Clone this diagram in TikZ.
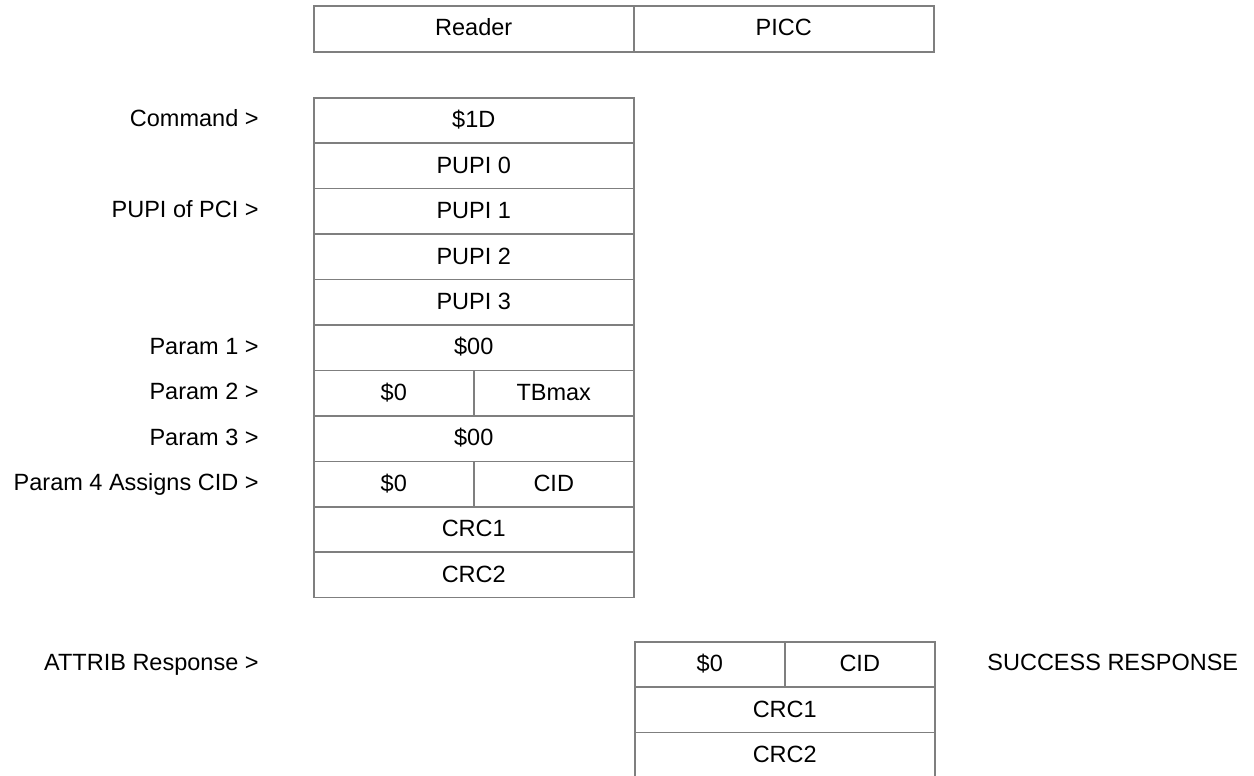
\documentclass[tikz,border=0pt]{standalone}
\usepackage{fontspec}
\setmainfont{Liberation Sans}
\usepackage{tikz}
\usetikzlibrary{positioning}
\definecolor{cellgray}{HTML}{7F7F7F}
\newcommand{\rowh}{45.45}

\tikzset{
  cell/.style={draw=cellgray, line width=0.75pt, inner sep=0pt, anchor=north west,
               minimum height=22.72pt, text height=8.4pt, text depth=1.2pt},
  wide/.style={cell, minimum width=160pt},
  half/.style={cell, minimum width=80pt},
  tag/.style={anchor=east, inner sep=0pt, text height=8.4pt, text depth=1.2pt}
}

\begin{document}
\begin{tikzpicture}[x=0.5pt, y=-0.5pt, font=\fontsize{11.75}{14}\selectfont]
  \clip (0,0) rectangle (1254,776);
  % header
  \node[wide, minimum height=23pt] (reader) at (313,5) {Reader};
  \node[cell, minimum width=150pt, minimum height=23pt] (picc) at (633,5) {PICC};
  % ATTRIB command frame
  \foreach \i/\lab in {0/{\$1D},1/{PUPI 0},2/{PUPI 1},3/{PUPI 2},4/{PUPI 3},
                       5/{\$00},7/{\$00},9/{CRC1},10/{CRC2}}{
    \node[wide] (cmd\i) at (313,97+\rowh*\i) {\lab};
  }
  \node[half] (cmd6a) at (313,97+\rowh*6) {\$0};
  \node[half] (cmd6b) at (473,97+\rowh*6) {TBmax};
  \node[half] (cmd8a) at (313,97+\rowh*8) {\$0};
  \node[half] (cmd8b) at (473,97+\rowh*8) {CID};
  % field labels
  \foreach \i/\lab in {0/{Command >},2/{PUPI of PCI >},5/{Param 1 >},6/{Param 2 >},
                       7/{Param 3 >},8/{Param 4 Assigns CID >}}{
    \node[tag] (lbl\i) at (259,97+\rowh*\i+\rowh/2) {\lab};
  }
  % response frame
  \node[cell, minimum width=75pt] (rsp0a) at (634,641) {\$0};
  \node[cell, minimum width=75pt] (rsp0b) at (784,641) {CID};
  \node[cell, minimum width=150pt] (rsp1) at (634,641+\rowh) {CRC1};
  \node[cell, minimum width=150pt] (rsp2) at (634,641+2*\rowh) {CRC2};
  \node[tag] (lblrsp) at (259,641+\rowh/2) {ATTRIB Response >};
  \node[tag, anchor=west] (success) at (987,641+\rowh/2) {SUCCESS RESPONSE};
\end{tikzpicture}
\end{document}
